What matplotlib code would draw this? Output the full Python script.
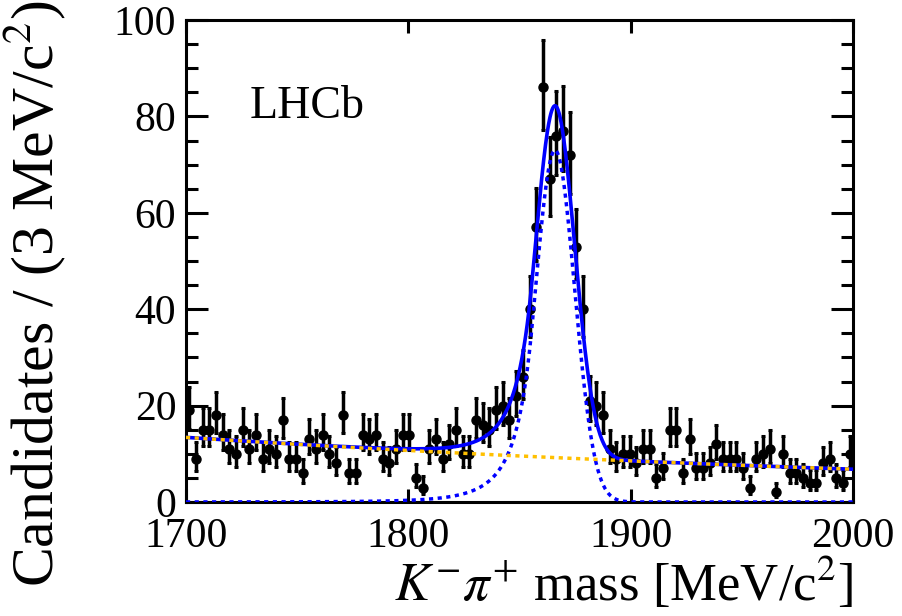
import numpy as np
import matplotlib
matplotlib.use('Agg')
import matplotlib.pyplot as plt

plt.rcParams['font.family'] = ['Liberation Serif', 'DejaVu Serif']
plt.rcParams['mathtext.fontset'] = 'stix'

# binned data: 100 bins of 3 MeV from 1700 to 2000
bin_lo = 1700.0
bin_width = 3.0
counts = [19, 9, 15, 15, 18, 14, 11, 10, 15, 11,
          14, 9, 11, 10, 17, 9, 9, 6, 13, 11,
          14, 10, 8, 18, 6, 6, 14, 13, 14, 9,
          8, 11, 14, 14, 5, 3, 11, 13, 9, 12,
          15, 10, 10, 17, 16, 15, 19, 20, 17, 22,
          26, 40, 57, 86, 67, 76, 77, 72, 53, 40,
          21, 20, 18, 11, 9, 10, 10, 8, 11, 11,
          5, 7, 15, 15, 6, 13, 7, 7, 8, 12,
          9, 9, 9, 7, 3, 9, 10, 11, 2, 10,
          6, 6, 5, 4, 4, 8, 9, 5, 4, 10]

# fit parameters
mu = 1866.0
sigma = 8.8
cb_alpha = 1.2
cb_n = 5.0
sig_peak = 73.0
bkg_at_1700 = 13.4
bkg_slope = 0.00226

x_ticks = [1700, 1800, 1900, 2000]
y_ticks = [0, 20, 40, 60, 80, 100]


def crystal_ball(x):
    t = (x - mu) / sigma
    out = np.exp(-0.5 * t**2)
    tail = t < -cb_alpha
    out[tail] = np.exp(-0.5 * cb_alpha**2) * (1 + cb_alpha / cb_n * (-t[tail] - cb_alpha))**(-cb_n)
    return sig_peak * out


def background(x):
    return bkg_at_1700 * np.exp(-bkg_slope * (x - 1700))


n = np.array(counts, dtype=float)
centers = bin_lo + bin_width * (np.arange(len(n)) + 0.5)
err_lo = np.sqrt(n + 0.25) - 0.5
err_hi = np.sqrt(n + 0.25) + 0.5

xx = np.linspace(1700, 2000, 1500)
sig = crystal_ball(xx)
bkg = background(xx)

fig = plt.figure(figsize=(9.03, 6.16), dpi=100)
ax = fig.add_axes([186/903, 1-502/616, 667/903, 482/616])

ax.errorbar(centers, n, yerr=[err_lo, err_hi], fmt='o', color='black',
            markersize=6.5, elinewidth=2.5, capsize=1.3, capthick=2.2, zorder=2)
ax.plot(xx, sig + bkg, color='#0000ff', lw=2.6, zorder=3)
ax.plot(xx, sig, color='#0000ff', lw=2.5, linestyle=(0, (1.2, 1.3)), zorder=4)
ax.plot(xx, bkg, color='#ffc000', lw=2.5, linestyle=(0, (1.2, 1.3)), zorder=5)

ax.set_xlim(1700, 2000)
ax.set_ylim(0, 100)
ax.set_xticks(x_ticks)
ax.set_yticks(y_ticks)
ax.set_yticks(np.arange(0, 101, 5), minor=True)

for s in ax.spines.values():
    s.set_linewidth(2.2)

ax.tick_params(axis='both', which='both', direction='in', width=2.2,
               labelsize=30, right=True, top=True)
ax.tick_params(axis='y', which='major', length=16, pad=7)
ax.tick_params(axis='y', which='minor', length=8.5)
ax.tick_params(axis='x', which='major', length=9.5, pad=11)

ax.text(1.0, -0.205, r'$K^{-}\pi^{+}$ mass [MeV/c$^{2}$]', transform=ax.transAxes,
        ha='right', va='baseline', fontsize=38)
ax.text(-0.228, 1.04, 'Candidates / (3 MeV/c$^{2}$)', transform=ax.transAxes,
        rotation=90, ha='center', va='top', fontsize=43)
ax.text(0.096, 0.797, 'LHCb', transform=ax.transAxes, ha='left', va='baseline',
        fontsize=33)

fig.savefig('out.png', dpi=100)
